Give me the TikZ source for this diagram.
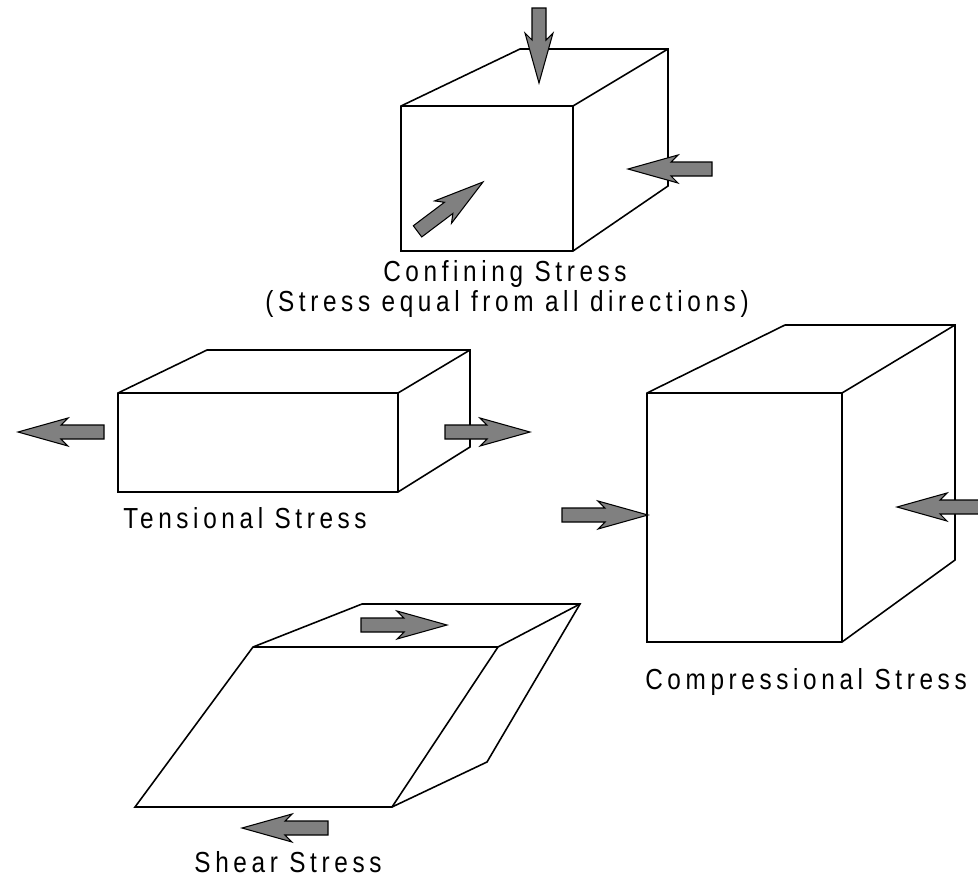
\documentclass[tikz,border=0pt]{standalone}
\usepackage{fontspec}
\newfontfamily\lblfont{Liberation Sans}[LetterSpace=19]
\tikzset{
  x=0.02cm, y=-0.02cm,
  boxline/.style={draw=black, line width=0.9pt, line join=miter, fill=white},
  arrowshape/.style={draw=black, line width=0.6pt, fill=black!50, line join=miter},
  lbl/.style={font=\lblfont\fontsize{16.5}{19}\selectfont, inner sep=0pt, anchor=center}
}
% tip x, tip y, angle, total length
\newcommand\stressarrow[4]{%
  \draw[arrowshape, shift={(#1,#2)}, rotate=#3]
    (0,0) -- (-50,-14) -- (-43,-7) -- (-#4,-7) -- (-#4,7) -- (-43,7) -- (-50,14) -- cycle;}
\newcommand\sx[1]{\scalebox{0.84}[1]{#1}}
\begin{document}
\begin{tikzpicture}
\useasboundingbox (0,0) rectangle (978,877);
\clip (0,0) rectangle (978,877);

% ---------- Confining stress cube ----------
\coordinate (cfl) at (401,106); \coordinate (cfr) at (573,106);
\coordinate (cbl) at (401,251); \coordinate (cbr) at (573,251);
\coordinate (ctl) at (520,49);  \coordinate (ctr) at (668,49);
\coordinate (crb) at (668,186);
\draw[boxline] (cfl) -- (ctl) -- (ctr) -- (crb) -- (cbr) -- (cbl) -- cycle;
\draw[boxline, fill=none] (cfl) -- (cfr) -- (cbr) (cfr) -- (ctr);
\stressarrow{539}{83}{-90}{75}
\stressarrow{628}{169}{180}{84}
\stressarrow{483}{182}{37}{82}
\node[lbl] (conf) at (505,274) {\sx{Confining Stress}};
\node[lbl] (confsub) at (507,304) {\sx{(Stress equal from all directions)}};

% ---------- Tensional stress box ----------
\coordinate (tfl) at (118,393); \coordinate (tfr) at (398,393);
\coordinate (tbl) at (118,492); \coordinate (tbr) at (398,492);
\coordinate (ttl) at (207,350); \coordinate (ttr) at (470,350);
\coordinate (trb) at (470,447);
\draw[boxline] (tfl) -- (ttl) -- (ttr) -- (trb) -- (tbr) -- (tbl) -- cycle;
\draw[boxline, fill=none] (tfl) -- (tfr) -- (tbr) (tfr) -- (ttr);
\stressarrow{18}{432}{180}{86}
\stressarrow{530}{432}{0}{85}
\node[lbl] (tens) at (245,518) {\sx{Tensional Stress}};

% ---------- Compressional stress box ----------
\coordinate (pfl) at (647,393); \coordinate (pfr) at (842,393);
\coordinate (pbl) at (647,642); \coordinate (pbr) at (842,642);
\coordinate (ptl) at (785,325); \coordinate (ptr) at (955,325);
\coordinate (prb) at (955,560);
\draw[boxline] (pfl) -- (ptl) -- (ptr) -- (prb) -- (pbr) -- (pbl) -- cycle;
\draw[boxline, fill=none] (pfl) -- (pfr) -- (pbr) (pfr) -- (ptr);
\stressarrow{648}{515}{0}{86}
\stressarrow{897}{507}{180}{90}
\node[lbl] (comp) at (806,682) {\sx{Compressional Stress}};

% ---------- Shear stress box ----------
\coordinate (sfl) at (253,647); \coordinate (sfr) at (498,647);
\coordinate (sbl) at (135,807); \coordinate (sbr) at (392,807);
\coordinate (stl) at (362,604); \coordinate (str) at (580,604);
\coordinate (srb) at (487,762);
\draw[boxline] (sfl) -- (stl) -- (str) -- (srb) -- (sbr) -- (sbl) -- cycle;
\draw[boxline, fill=none] (sfl) -- (sfr) -- (sbr) (sfr) -- (str);
\stressarrow{447}{625}{0}{86}
\stressarrow{242}{828}{180}{86}
\node[lbl] (shear) at (288,862) {\sx{Shear Stress}};
\end{tikzpicture}
\end{document}
